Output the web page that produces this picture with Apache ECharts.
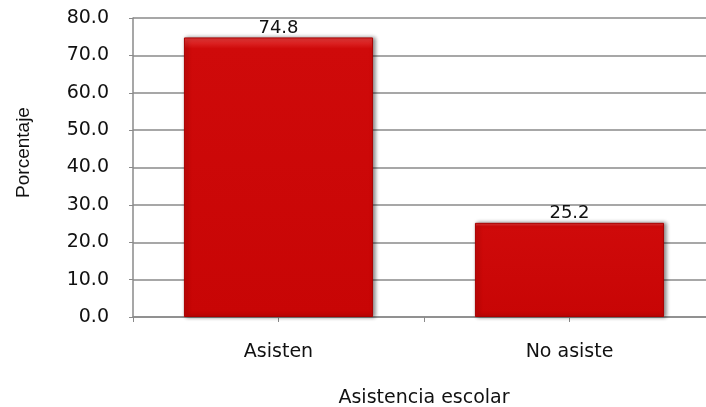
<!DOCTYPE html>
<html>
<head>
<meta charset="utf-8">
<script src="https://cdn.jsdelivr.net/npm/echarts@6/dist/echarts.min.js"></script>
<style>html,body{margin:0;padding:0;background:#fff}#c{width:706px;height:407px}</style>
</head>
<body>
<div id="c"></div>
<script>
const categories = ['Asisten', 'No asiste'];
const values = [74.8, 25.2];
const yTicks = [0, 10, 20, 30, 40, 50, 60, 70, 80];
const yName = 'Porcentaje';
const xName = 'Asistencia escolar';

const chart = echarts.init(document.getElementById('c'));
const axisGray = '#8a8a8a';
chart.setOption({
  animation: false,
  grid: { left: 133, width: 582, top: 18, height: 299, containLabel: false, outerBoundsMode: 'none' },
  xAxis: [{
    type: 'category',
    data: categories,
    axisLine: { lineStyle: { color: axisGray, width: 1.5 } },
    axisTick: { show: true, alignWithLabel: true, length: 5, lineStyle: { color: axisGray } },
    axisLabel: { color: '#111', fontFamily: 'DejaVu Sans', fontSize: 19, margin: 26 },
    name: xName,
    nameLocation: 'middle',
    nameGap: 72,
    nameTextStyle: { color: '#111', fontFamily: 'DejaVu Sans', fontSize: 19 }
  }, {
    type: 'category',
    data: categories,
    position: 'bottom',
    axisLine: { show: false },
    axisTick: { show: true, length: 5, lineStyle: { color: axisGray } },
    axisLabel: { show: false }
  }],
  yAxis: {
    type: 'value',
    min: yTicks[0],
    max: yTicks[yTicks.length - 1],
    interval: 10,
    axisLine: { show: true, lineStyle: { color: axisGray, width: 1.5 } },
    axisTick: { show: true, length: 4, lineStyle: { color: axisGray } },
    splitLine: { lineStyle: { color: axisGray, width: 1.5 } },
    axisLabel: { color: '#111', fontFamily: 'DejaVu Sans', fontSize: 19, margin: 24, formatter: v => v.toFixed(1) },
    name: yName,
    nameLocation: 'middle',
    nameGap: 100,
    nameRotate: 90,
    nameTextStyle: { color: '#111', fontFamily: 'Liberation Sans', fontSize: 19, padding: [0, 0, 0, 30] }
  },
  series: [{
    type: 'bar',
    data: values,
    barWidth: '65%',
    itemStyle: {
      color: new echarts.graphic.LinearGradient(0, 0, 0, 1, [
        { offset: 0, color: '#e83a3a' },
        { offset: 0.04, color: '#cf0a0a' },
        { offset: 1, color: '#c80505' }
      ]),
      borderColor: '#a80000',
      borderWidth: 1,
      shadowColor: 'rgba(0,0,0,0.45)',
      shadowBlur: 4,
      shadowOffsetX: 2,
      shadowOffsetY: 0
    },
    label: {
      show: true,
      position: 'top',
      distance: 0,
      color: '#111',
      fontFamily: 'DejaVu Sans',
      fontSize: 18,
      formatter: p => p.value.toFixed(1)
    }
  }]
});
</script>
</body>
</html>
